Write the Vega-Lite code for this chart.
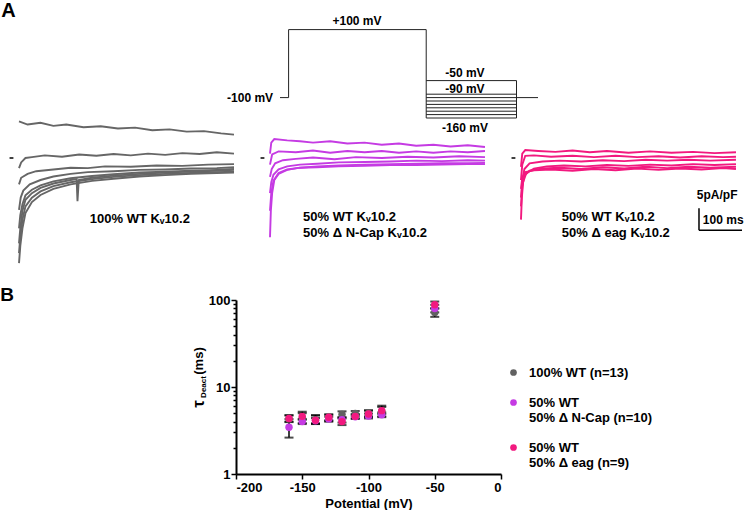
{
  "$schema": "https://vega.github.io/schema/vega-lite/v6.json",
  "padding": 0,
  "background": "white",
  "bounds": "flush",
  "spacing": 0,
  "config": {
    "view": {"stroke": null},
    "font": "Liberation Sans",
    "text": {"font": "Liberation Sans", "fontWeight": "bold", "color": "black"},
    "axis": {"domainColor": "black", "tickColor": "black", "labelColor": "black", "titleColor": "black", "labelFont": "Liberation Sans", "titleFont": "Liberation Sans", "labelFontWeight": "bold", "titleFontWeight": "bold", "labelFontSize": 13, "titleFontSize": 13, "grid": false, "domainWidth": 2, "tickWidth": 1.5}
  },
  "datasets": {
    "protocol": [
      {"t1": 0, "t2": 20, "v1": -100, "v2": -100},
      {"t1": 20, "t2": 20, "v1": -100, "v2": 100},
      {"t1": 20, "t2": 340, "v1": 100, "v2": 100},
      {"t1": 340, "t2": 340, "v1": 100, "v2": -160},
      {"t1": 550, "t2": 550, "v1": -50, "v2": -160},
      {"t1": 550, "t2": 600, "v1": -100, "v2": -100},
      {"t1": 340, "t2": 550, "v1": -50, "v2": -50},
      {"t1": 340, "t2": 550, "v1": -90, "v2": -90},
      {"t1": 340, "t2": 550, "v1": -100, "v2": -100},
      {"t1": 340, "t2": 550, "v1": -110, "v2": -110},
      {"t1": 340, "t2": 550, "v1": -120, "v2": -120},
      {"t1": 340, "t2": 550, "v1": -130, "v2": -130},
      {"t1": 340, "t2": 550, "v1": -140, "v2": -140},
      {"t1": 340, "t2": 550, "v1": -150, "v2": -150},
      {"t1": 340, "t2": 550, "v1": -160, "v2": -160}
    ],
    "protoLabels": [
      {"t": 179, "v": 115, "label": "+100 mV"},
      {"t": 430, "v": -38, "label": "-50 mV"},
      {"t": 430, "v": -85, "label": "-90 mV"},
      {"t": 430, "v": -200, "label": "-160 mV"}
    ],
    "scalebar": [
      {"x1": 414, "x2": 414, "y1": -11.4, "y2": -16.4},
      {"x1": 414, "x2": 514, "y1": -16.4, "y2": -16.4}
    ],
    "traces": [
      {"g":"W","s":1,"t":0,"i":8.3},{"g":"W","s":1,"t":20,"i":7.6},{"g":"W","s":1,"t":50,"i":8.0},{"g":"W","s":1,"t":80,"i":7.3},{"g":"W","s":1,"t":110,"i":7.6},{"g":"W","s":1,"t":150,"i":7.0},{"g":"W","s":1,"t":190,"i":7.2},{"g":"W","s":1,"t":230,"i":6.7},{"g":"W","s":1,"t":270,"i":6.9},{"g":"W","s":1,"t":310,"i":6.3},{"g":"W","s":1,"t":350,"i":6.5},{"g":"W","s":1,"t":390,"i":6.0},{"g":"W","s":1,"t":430,"i":6.1},{"g":"W","s":1,"t":470,"i":5.6},{"g":"W","s":1,"t":500,"i":5.3},
      {"g":"W","s":2,"t":0,"i":-2.3},{"g":"W","s":2,"t":5,"i":-1.0},{"g":"W","s":2,"t":15,"i":0.0},{"g":"W","s":2,"t":30,"i":0.2},{"g":"W","s":2,"t":60,"i":0.6},{"g":"W","s":2,"t":100,"i":0.3},{"g":"W","s":2,"t":140,"i":0.8},{"g":"W","s":2,"t":180,"i":0.5},{"g":"W","s":2,"t":220,"i":0.9},{"g":"W","s":2,"t":260,"i":0.6},{"g":"W","s":2,"t":300,"i":1.0},{"g":"W","s":2,"t":340,"i":0.7},{"g":"W","s":2,"t":380,"i":1.1},{"g":"W","s":2,"t":420,"i":0.9},{"g":"W","s":2,"t":460,"i":1.3},{"g":"W","s":2,"t":500,"i":1.0},
      {"g":"W","s":3,"t":0,"i":-6},{"g":"W","s":3,"t":5,"i":-4.5},{"g":"W","s":3,"t":20,"i":-3.6},{"g":"W","s":3,"t":40,"i":-3.0},{"g":"W","s":3,"t":80,"i":-2.6},{"g":"W","s":3,"t":120,"i":-2.2},{"g":"W","s":3,"t":160,"i":-2.3},{"g":"W","s":3,"t":200,"i":-1.9},{"g":"W","s":3,"t":260,"i":-2.0},{"g":"W","s":3,"t":320,"i":-1.7},{"g":"W","s":3,"t":380,"i":-1.8},{"g":"W","s":3,"t":440,"i":-1.5},{"g":"W","s":3,"t":500,"i":-1.4},
      {"g":"W","s":4,"t":0,"i":-11.8},{"g":"W","s":4,"t":4,"i":-9},{"g":"W","s":4,"t":10,"i":-7.4},{"g":"W","s":4,"t":25,"i":-6.0},{"g":"W","s":4,"t":50,"i":-5.0},{"g":"W","s":4,"t":80,"i":-4.2},{"g":"W","s":4,"t":120,"i":-3.6},{"g":"W","s":4,"t":160,"i":-3.2},{"g":"W","s":4,"t":220,"i":-3.0},{"g":"W","s":4,"t":280,"i":-2.7},{"g":"W","s":4,"t":340,"i":-2.6},{"g":"W","s":4,"t":400,"i":-2.4},{"g":"W","s":4,"t":460,"i":-2.3},{"g":"W","s":4,"t":500,"i":-2.1},
      {"g":"W","s":5,"t":0,"i":-19.4},{"g":"W","s":5,"t":3,"i":-16},{"g":"W","s":5,"t":8,"i":-12},{"g":"W","s":5,"t":15,"i":-9.5},{"g":"W","s":5,"t":30,"i":-8},{"g":"W","s":5,"t":50,"i":-6.8},{"g":"W","s":5,"t":80,"i":-5.8},{"g":"W","s":5,"t":120,"i":-5.0},{"g":"W","s":5,"t":134,"i":-4.8},{"g":"W","s":5,"t":136,"i":-9.8},{"g":"W","s":5,"t":139,"i":-5.0},{"g":"W","s":5,"t":170,"i":-4.5},{"g":"W","s":5,"t":220,"i":-4.0},{"g":"W","s":5,"t":280,"i":-3.6},{"g":"W","s":5,"t":340,"i":-3.3},{"g":"W","s":5,"t":400,"i":-3.1},{"g":"W","s":5,"t":460,"i":-2.9},{"g":"W","s":5,"t":500,"i":-2.7},
      {"g":"W","s":6,"t":0,"i":-21.6},{"g":"W","s":6,"t":3,"i":-18},{"g":"W","s":6,"t":8,"i":-14},{"g":"W","s":6,"t":15,"i":-11},{"g":"W","s":6,"t":30,"i":-9},{"g":"W","s":6,"t":50,"i":-7.6},{"g":"W","s":6,"t":80,"i":-6.4},{"g":"W","s":6,"t":120,"i":-5.5},{"g":"W","s":6,"t":170,"i":-4.8},{"g":"W","s":6,"t":220,"i":-4.3},{"g":"W","s":6,"t":280,"i":-3.9},{"g":"W","s":6,"t":340,"i":-3.6},{"g":"W","s":6,"t":400,"i":-3.4},{"g":"W","s":6,"t":460,"i":-3.2},{"g":"W","s":6,"t":500,"i":-3.1},
      {"g":"W","s":7,"t":0,"i":-23.9},{"g":"W","s":7,"t":3,"i":-20},{"g":"W","s":7,"t":8,"i":-16},{"g":"W","s":7,"t":15,"i":-12.5},{"g":"W","s":7,"t":30,"i":-10},{"g":"W","s":7,"t":50,"i":-8.4},{"g":"W","s":7,"t":80,"i":-7.0},{"g":"W","s":7,"t":120,"i":-6.0},{"g":"W","s":7,"t":170,"i":-5.2},{"g":"W","s":7,"t":220,"i":-4.7},{"g":"W","s":7,"t":280,"i":-4.2},{"g":"W","s":7,"t":340,"i":-3.9},{"g":"W","s":7,"t":400,"i":-3.6},{"g":"W","s":7,"t":460,"i":-3.4},{"g":"W","s":7,"t":500,"i":-3.3},
      {"g":"W","s":8,"t":0,"i":-16},{"g":"W","s":8,"t":3,"i":-13},{"g":"W","s":8,"t":8,"i":-10.5},{"g":"W","s":8,"t":15,"i":-8.5},{"g":"W","s":8,"t":30,"i":-7.2},{"g":"W","s":8,"t":50,"i":-6.2},{"g":"W","s":8,"t":80,"i":-5.3},{"g":"W","s":8,"t":120,"i":-4.6},{"g":"W","s":8,"t":170,"i":-4.1},{"g":"W","s":8,"t":220,"i":-3.7},{"g":"W","s":8,"t":280,"i":-3.3},{"g":"W","s":8,"t":340,"i":-3.1},{"g":"W","s":8,"t":400,"i":-2.9},{"g":"W","s":8,"t":460,"i":-2.7},{"g":"W","s":8,"t":500,"i":-2.5},
      {"g":"N","s":1,"t":0,"i":1},{"g":"N","s":1,"t":3,"i":3.5},{"g":"N","s":1,"t":10,"i":4.3},{"g":"N","s":1,"t":40,"i":4.0},{"g":"N","s":1,"t":70,"i":3.8},{"g":"N","s":1,"t":100,"i":3.5},{"g":"N","s":1,"t":140,"i":3.8},{"g":"N","s":1,"t":180,"i":3.3},{"g":"N","s":1,"t":220,"i":3.5},{"g":"N","s":1,"t":260,"i":3.0},{"g":"N","s":1,"t":300,"i":3.3},{"g":"N","s":1,"t":340,"i":2.8},{"g":"N","s":1,"t":380,"i":3.0},{"g":"N","s":1,"t":420,"i":2.6},{"g":"N","s":1,"t":460,"i":2.9},{"g":"N","s":1,"t":500,"i":2.5},
      {"g":"N","s":2,"t":0,"i":-1.5},{"g":"N","s":2,"t":5,"i":0.8},{"g":"N","s":2,"t":20,"i":1.5},{"g":"N","s":2,"t":60,"i":1.3},{"g":"N","s":2,"t":100,"i":1.7},{"g":"N","s":2,"t":140,"i":1.2},{"g":"N","s":2,"t":180,"i":1.6},{"g":"N","s":2,"t":220,"i":1.3},{"g":"N","s":2,"t":260,"i":1.6},{"g":"N","s":2,"t":300,"i":1.2},{"g":"N","s":2,"t":340,"i":1.5},{"g":"N","s":2,"t":380,"i":1.2},{"g":"N","s":2,"t":420,"i":1.5},{"g":"N","s":2,"t":460,"i":1.3},{"g":"N","s":2,"t":500,"i":1.6},
      {"g":"N","s":3,"t":0,"i":-4.3},{"g":"N","s":3,"t":4,"i":-2.5},{"g":"N","s":3,"t":12,"i":-1.2},{"g":"N","s":3,"t":30,"i":-0.5},{"g":"N","s":3,"t":60,"i":-0.2},{"g":"N","s":3,"t":100,"i":0.1},{"g":"N","s":3,"t":150,"i":-0.3},{"g":"N","s":3,"t":200,"i":0.2},{"g":"N","s":3,"t":260,"i":0.0},{"g":"N","s":3,"t":320,"i":0.3},{"g":"N","s":3,"t":380,"i":0.1},{"g":"N","s":3,"t":440,"i":0.4},{"g":"N","s":3,"t":500,"i":0.2},
      {"g":"N","s":4,"t":0,"i":-8},{"g":"N","s":4,"t":3,"i":-5.5},{"g":"N","s":4,"t":8,"i":-3.8},{"g":"N","s":4,"t":20,"i":-2.6},{"g":"N","s":4,"t":40,"i":-1.9},{"g":"N","s":4,"t":70,"i":-1.5},{"g":"N","s":4,"t":110,"i":-1.3},{"g":"N","s":4,"t":160,"i":-1.0},{"g":"N","s":4,"t":220,"i":-0.9},{"g":"N","s":4,"t":280,"i":-0.8},{"g":"N","s":4,"t":340,"i":-0.6},{"g":"N","s":4,"t":400,"i":-0.7},{"g":"N","s":4,"t":460,"i":-0.5},{"g":"N","s":4,"t":500,"i":-0.6},
      {"g":"N","s":5,"t":0,"i":-18},{"g":"N","s":5,"t":2,"i":-12},{"g":"N","s":5,"t":5,"i":-8},{"g":"N","s":5,"t":10,"i":-5},{"g":"N","s":5,"t":20,"i":-3.6},{"g":"N","s":5,"t":40,"i":-2.7},{"g":"N","s":5,"t":70,"i":-2.2},{"g":"N","s":5,"t":110,"i":-1.9},{"g":"N","s":5,"t":160,"i":-1.7},{"g":"N","s":5,"t":220,"i":-1.5},{"g":"N","s":5,"t":280,"i":-1.4},{"g":"N","s":5,"t":340,"i":-1.3},{"g":"N","s":5,"t":400,"i":-1.2},{"g":"N","s":5,"t":460,"i":-1.2},{"g":"N","s":5,"t":500,"i":-1.1},
      {"g":"N","s":6,"t":0,"i":-12},{"g":"N","s":6,"t":3,"i":-8},{"g":"N","s":6,"t":8,"i":-5.2},{"g":"N","s":6,"t":20,"i":-3.4},{"g":"N","s":6,"t":40,"i":-2.6},{"g":"N","s":6,"t":70,"i":-2.2},{"g":"N","s":6,"t":110,"i":-2.1},{"g":"N","s":6,"t":160,"i":-1.9},{"g":"N","s":6,"t":220,"i":-1.8},{"g":"N","s":6,"t":280,"i":-1.6},{"g":"N","s":6,"t":340,"i":-1.6},{"g":"N","s":6,"t":400,"i":-1.5},{"g":"N","s":6,"t":460,"i":-1.4},{"g":"N","s":6,"t":500,"i":-1.4},
      {"g":"E","s":1,"t":0,"i":-2},{"g":"E","s":1,"t":3,"i":1.0},{"g":"E","s":1,"t":10,"i":1.8},{"g":"E","s":1,"t":40,"i":1.6},{"g":"E","s":1,"t":80,"i":1.4},{"g":"E","s":1,"t":120,"i":1.7},{"g":"E","s":1,"t":160,"i":1.3},{"g":"E","s":1,"t":200,"i":1.6},{"g":"E","s":1,"t":250,"i":1.2},{"g":"E","s":1,"t":300,"i":1.5},{"g":"E","s":1,"t":350,"i":1.2},{"g":"E","s":1,"t":400,"i":1.4},{"g":"E","s":1,"t":450,"i":1.1},{"g":"E","s":1,"t":500,"i":1.3},
      {"g":"E","s":2,"t":0,"i":-5},{"g":"E","s":2,"t":3,"i":-1.5},{"g":"E","s":2,"t":10,"i":0.5},{"g":"E","s":2,"t":30,"i":0.6},{"g":"E","s":2,"t":70,"i":0.3},{"g":"E","s":2,"t":120,"i":0.5},{"g":"E","s":2,"t":170,"i":0.2},{"g":"E","s":2,"t":220,"i":0.5},{"g":"E","s":2,"t":270,"i":0.2},{"g":"E","s":2,"t":320,"i":0.4},{"g":"E","s":2,"t":370,"i":0.1},{"g":"E","s":2,"t":420,"i":0.4},{"g":"E","s":2,"t":470,"i":0.2},{"g":"E","s":2,"t":500,"i":0.3},
      {"g":"E","s":3,"t":0,"i":-9},{"g":"E","s":3,"t":3,"i":-5},{"g":"E","s":3,"t":8,"i":-2.5},{"g":"E","s":3,"t":20,"i":-1.2},{"g":"E","s":3,"t":50,"i":-0.8},{"g":"E","s":3,"t":90,"i":-0.6},{"g":"E","s":3,"t":140,"i":-0.8},{"g":"E","s":3,"t":190,"i":-0.5},{"g":"E","s":3,"t":240,"i":-0.7},{"g":"E","s":3,"t":290,"i":-0.4},{"g":"E","s":3,"t":340,"i":-0.6},{"g":"E","s":3,"t":390,"i":-0.4},{"g":"E","s":3,"t":440,"i":-0.6},{"g":"E","s":3,"t":500,"i":-0.4},
      {"g":"E","s":4,"t":0,"i":-14},{"g":"E","s":4,"t":2,"i":-9},{"g":"E","s":4,"t":5,"i":-5.5},{"g":"E","s":4,"t":12,"i":-3.5},{"g":"E","s":4,"t":30,"i":-2.4},{"g":"E","s":4,"t":60,"i":-1.9},{"g":"E","s":4,"t":100,"i":-1.7},{"g":"E","s":4,"t":150,"i":-1.9},{"g":"E","s":4,"t":200,"i":-1.6},{"g":"E","s":4,"t":250,"i":-1.8},{"g":"E","s":4,"t":300,"i":-1.5},{"g":"E","s":4,"t":350,"i":-1.7},{"g":"E","s":4,"t":400,"i":-1.4},{"g":"E","s":4,"t":450,"i":-1.6},{"g":"E","s":4,"t":500,"i":-1.4},
      {"g":"E","s":5,"t":0,"i":-11},{"g":"E","s":5,"t":3,"i":-6.5},{"g":"E","s":5,"t":8,"i":-4},{"g":"E","s":5,"t":20,"i":-2.9},{"g":"E","s":5,"t":50,"i":-2.4},{"g":"E","s":5,"t":90,"i":-2.2},{"g":"E","s":5,"t":140,"i":-2.5},{"g":"E","s":5,"t":190,"i":-2.1},{"g":"E","s":5,"t":240,"i":-2.4},{"g":"E","s":5,"t":290,"i":-2.0},{"g":"E","s":5,"t":340,"i":-2.3},{"g":"E","s":5,"t":390,"i":-2.0},{"g":"E","s":5,"t":440,"i":-2.2},{"g":"E","s":5,"t":500,"i":-2.0},
      {"g":"E","s":6,"t":0,"i":-7},{"g":"E","s":6,"t":3,"i":-4.5},{"g":"E","s":6,"t":10,"i":-3.2},{"g":"E","s":6,"t":30,"i":-2.8},{"g":"E","s":6,"t":70,"i":-2.6},{"g":"E","s":6,"t":120,"i":-2.9},{"g":"E","s":6,"t":170,"i":-2.5},{"g":"E","s":6,"t":220,"i":-2.8},{"g":"E","s":6,"t":270,"i":-2.4},{"g":"E","s":6,"t":320,"i":-2.7},{"g":"E","s":6,"t":370,"i":-2.4},{"g":"E","s":6,"t":420,"i":-2.6},{"g":"E","s":6,"t":470,"i":-2.3},{"g":"E","s":6,"t":500,"i":-2.5}
    ],
    "tau": [
      {"grp":"100% WT (n=13)","v":-160,"tau":4.3,"lo":3.95,"hi":4.7},
      {"grp":"100% WT (n=13)","v":-150,"tau":4.35,"lo":3.85,"hi":5.2},
      {"grp":"100% WT (n=13)","v":-140,"tau":4.2,"lo":3.8,"hi":4.7},
      {"grp":"100% WT (n=13)","v":-130,"tau":4.4,"lo":4.0,"hi":4.8},
      {"grp":"100% WT (n=13)","v":-120,"tau":4.85,"lo":4.45,"hi":5.25},
      {"grp":"100% WT (n=13)","v":-110,"tau":4.95,"lo":4.6,"hi":5.3},
      {"grp":"100% WT (n=13)","v":-100,"tau":5.0,"lo":4.6,"hi":5.4},
      {"grp":"100% WT (n=13)","v":-90,"tau":5.2,"lo":4.6,"hi":5.9},
      {"grp":"100% WT (n=13)","v":-50,"tau":72,"lo":64,"hi":80},
      {"grp":"50% WT|50% Δ N-Cap (n=10)","v":-160,"tau":3.45,"lo":2.62,"hi":4.28},
      {"grp":"50% WT|50% Δ N-Cap (n=10)","v":-150,"tau":4.0,"lo":3.75,"hi":4.3},
      {"grp":"50% WT|50% Δ N-Cap (n=10)","v":-140,"tau":4.1,"lo":3.8,"hi":4.4},
      {"grp":"50% WT|50% Δ N-Cap (n=10)","v":-130,"tau":4.3,"lo":4.05,"hi":4.55},
      {"grp":"50% WT|50% Δ N-Cap (n=10)","v":-120,"tau":4.2,"lo":3.9,"hi":4.5},
      {"grp":"50% WT|50% Δ N-Cap (n=10)","v":-110,"tau":4.55,"lo":4.3,"hi":4.8},
      {"grp":"50% WT|50% Δ N-Cap (n=10)","v":-100,"tau":4.65,"lo":4.35,"hi":4.95},
      {"grp":"50% WT|50% Δ N-Cap (n=10)","v":-90,"tau":4.8,"lo":4.5,"hi":5.1},
      {"grp":"50% WT|50% Δ N-Cap (n=10)","v":-50,"tau":80,"lo":72,"hi":88},
      {"grp":"50% WT|50% Δ eag (n=9)","v":-160,"tau":4.35,"lo":4.0,"hi":4.75},
      {"grp":"50% WT|50% Δ eag (n=9)","v":-150,"tau":4.6,"lo":4.2,"hi":5.0},
      {"grp":"50% WT|50% Δ eag (n=9)","v":-140,"tau":4.15,"lo":3.75,"hi":4.75},
      {"grp":"50% WT|50% Δ eag (n=9)","v":-130,"tau":4.5,"lo":4.15,"hi":4.85},
      {"grp":"50% WT|50% Δ eag (n=9)","v":-120,"tau":4.0,"lo":3.65,"hi":4.35},
      {"grp":"50% WT|50% Δ eag (n=9)","v":-110,"tau":4.6,"lo":4.35,"hi":4.9},
      {"grp":"50% WT|50% Δ eag (n=9)","v":-100,"tau":4.9,"lo":4.5,"hi":5.35},
      {"grp":"50% WT|50% Δ eag (n=9)","v":-90,"tau":5.35,"lo":4.9,"hi":6.1},
      {"grp":"50% WT|50% Δ eag (n=9)","v":-50,"tau":88,"lo":80,"hi":96}
    ]
  },
  "vconcat": [
    {
      "width": 745, "height": 118,
      "layer": [
        {
          "data": {"name": "protocol"},
          "mark": {"type": "rule", "color": "#222222", "strokeWidth": 1},
          "encoding": {
            "x": {"field": "t1", "type": "quantitative", "scale": {"domain": [-651.2, 1081.4], "nice": false, "zero": false}, "axis": null},
            "x2": {"field": "t2"},
            "y": {"field": "v1", "type": "quantitative", "scale": {"domain": [-160, 187.06], "nice": false, "zero": false}, "axis": null},
            "y2": {"field": "v2"}
          }
        },
        {
          "data": {"name": "protoLabels"},
          "mark": {"type": "text", "fontSize": 12, "fontWeight": "bold", "baseline": "alphabetic", "align": "center"},
          "encoding": {
            "x": {"field": "t", "type": "quantitative"},
            "y": {"field": "v", "type": "quantitative"},
            "text": {"field": "label"}
          }
        },
        {
          "data": {"values": [{"label": "-100 mV"}]},
          "mark": {"type": "text", "fontSize": 12, "fontWeight": "bold", "baseline": "alphabetic", "align": "right"},
          "encoding": {
            "x": {"datum": -16, "type": "quantitative"},
            "y": {"datum": -111.5, "type": "quantitative"},
            "text": {"field": "label"}
          }
        },
        {
          "data": {"values": [{"label": "A"}]},
          "mark": {"type": "text", "fontSize": 20, "fontWeight": "bold", "baseline": "middle", "align": "center"},
          "encoding": {
            "x": {"datum": -631.4, "type": "quantitative"},
            "y": {"datum": 154.7, "type": "quantitative"},
            "text": {"field": "label"}
          }
        }
      ]
    },
    {
      "width": 745, "height": 182,
      "resolve": {"scale": {"x": "independent"}},
      "layer": [
        {
          "layer": [
            {
              "data": {"name": "traces"},
              "transform": [{"filter": "datum.g === 'W'"}],
              "mark": {"type": "line", "color": "#666666", "strokeWidth": 1.9},
              "encoding": {
                "x": {"field": "t", "type": "quantitative", "scale": {"domain": [-44.2, 1688.4], "nice": false, "zero": false}, "axis": null},
                "y": {"field": "i", "type": "quantitative", "scale": {"domain": [-32.27, 9.09], "nice": false, "zero": false}, "axis": null},
                "detail": {"field": "s"}
              }
            },
            {
              "data": {"values": [{"m": 1}]},
              "mark": {"type": "rule", "color": "black", "strokeWidth": 1.5},
              "encoding": {"x": {"datum": -22, "type": "quantitative"}, "x2": {"datum": -13}, "y": {"datum": 0, "type": "quantitative"}}
            },
            {
              "data": {"values": [{"label": "100% WT Kᵥ10.2"}]},
              "mark": {"type": "text", "fontSize": 13, "fontWeight": "bold", "baseline": "alphabetic", "align": "center"},
              "encoding": {"x": {"datum": 281, "type": "quantitative"}, "y": {"datum": -14.7, "type": "quantitative"}, "text": {"field": "label"}}
            }
          ]
        },
        {
          "layer": [
            {
              "data": {"name": "traces"},
              "transform": [{"filter": "datum.g === 'N'"}],
              "mark": {"type": "line", "color": "#c53be3", "strokeWidth": 1.9},
              "encoding": {
                "x": {"field": "t", "type": "quantitative", "scale": {"domain": [-627.9, 1104.7], "nice": false, "zero": false}, "axis": null},
                "y": {"field": "i", "type": "quantitative", "axis": null},
                "detail": {"field": "s"}
              }
            },
            {
              "data": {"values": [{"m": 1}]},
              "mark": {"type": "rule", "color": "black", "strokeWidth": 1.5},
              "encoding": {"x": {"datum": -22, "type": "quantitative"}, "x2": {"datum": -13}, "y": {"datum": 0, "type": "quantitative"}}
            },
            {
              "data": {"values": [{"label": ["50% WT Kᵥ10.2", "50% Δ N-Cap Kᵥ10.2"]}]},
              "mark": {"type": "text", "fontSize": 13, "fontWeight": "bold", "baseline": "alphabetic", "align": "left", "lineHeight": 16},
              "encoding": {"x": {"datum": 77, "type": "quantitative"}, "y": {"datum": -14.4, "type": "quantitative"}, "text": {"field": "label"}}
            }
          ]
        },
        {
          "layer": [
            {
              "data": {"name": "traces"},
              "transform": [{"filter": "datum.g === 'E'"}],
              "mark": {"type": "line", "color": "#f2197f", "strokeWidth": 1.9},
              "encoding": {
                "x": {"field": "t", "type": "quantitative", "scale": {"domain": [-1211.6, 521], "nice": false, "zero": false}, "axis": null},
                "y": {"field": "i", "type": "quantitative", "axis": null},
                "detail": {"field": "s"}
              }
            },
            {
              "data": {"values": [{"m": 1}]},
              "mark": {"type": "rule", "color": "black", "strokeWidth": 1.5},
              "encoding": {"x": {"datum": -22, "type": "quantitative"}, "x2": {"datum": -13}, "y": {"datum": 0, "type": "quantitative"}}
            },
            {
              "data": {"values": [{"label": ["50% WT Kᵥ10.2", "50% Δ eag Kᵥ10.2"]}]},
              "mark": {"type": "text", "fontSize": 13, "fontWeight": "bold", "baseline": "alphabetic", "align": "left", "lineHeight": 16},
              "encoding": {"x": {"datum": 95, "type": "quantitative"}, "y": {"datum": -14.4, "type": "quantitative"}, "text": {"field": "label"}}
            },
            {
              "data": {"name": "scalebar"},
              "mark": {"type": "rule", "color": "black", "strokeWidth": 1.5},
              "encoding": {"x": {"field": "x1", "type": "quantitative"}, "x2": {"field": "x2"}, "y": {"field": "y1", "type": "quantitative"}, "y2": {"field": "y2"}}
            },
            {
              "data": {"values": [{"label": "5pA/pF"}]},
              "mark": {"type": "text", "fontSize": 12, "fontWeight": "bold", "baseline": "alphabetic", "align": "left"},
              "encoding": {"x": {"datum": 409, "type": "quantitative"}, "y": {"datum": -9.4, "type": "quantitative"}, "text": {"field": "label"}}
            },
            {
              "data": {"values": [{"label": "100 ms"}]},
              "mark": {"type": "text", "fontSize": 12, "fontWeight": "bold", "baseline": "alphabetic", "align": "left"},
              "encoding": {"x": {"datum": 423, "type": "quantitative"}, "y": {"datum": -15.1, "type": "quantitative"}, "text": {"field": "label"}}
            }
          ]
        }
      ]
    },
    {
      "bounds": "flush",
      "spacing": 222,
      "hconcat": [
        {
          "width": 14, "height": 1,
          "data": {"values": [{"letter": "B"}]},
          "mark": {"type": "text", "fontSize": 19, "fontWeight": "bold", "baseline": "alphabetic"},
          "encoding": {"text": {"field": "letter"}}
        },
        {
          "width": 265, "height": 174,
          "data": {"name": "tau"},
          "layer": [
            {
              "mark": {"type": "errorbar", "ticks": {"size": 9, "thickness": 2, "color": "black"}, "rule": {"strokeWidth": 1.5, "color": "black"}},
              "encoding": {
                "x": {"field": "v", "type": "quantitative", "scale": {"domain": [-200, 0], "nice": false, "zero": false},
                  "axis": {"values": [-200, -150, -100, -50, 0], "labelExpr": "toString(datum.value)", "title": "Potential (mV)", "tickSize": 5, "labelPadding": 2, "titlePadding": 3}},
                "y": {"field": "lo", "type": "quantitative", "scale": {"type": "log", "domain": [1, 100], "nice": false},
                  "axis": {"values": [1, 2, 3, 4, 5, 6, 7, 8, 9, 10, 20, 30, 40, 50, 60, 70, 80, 90, 100],
                    "labelExpr": "indexof([1, 10, 100], datum.value) >= 0 ? toString(datum.value) : ''",
                    "tickSize": {"condition": {"test": "indexof([1, 10, 100], datum.value) >= 0", "value": 5}, "value": 3},
                    "title": null, "labelPadding": 1}},
                "y2": {"field": "hi"},
                "detail": {"field": "grp"}
              }
            },
            {
              "mark": {"type": "circle", "size": 55, "opacity": 1},
              "encoding": {
                "x": {"field": "v", "type": "quantitative"},
                "y": {"field": "tau", "type": "quantitative"},
                "color": {"field": "grp", "type": "nominal",
                  "scale": {"domain": ["100% WT (n=13)", "50% WT|50% Δ N-Cap (n=10)", "50% WT|50% Δ eag (n=9)"], "range": ["#616161", "#c53be3", "#f2197f"]},
                  "legend": {"title": null, "orient": "none", "legendX": 507, "legendY": 366, "labelExpr": "split(datum.label, '|')", "labelFont": "Liberation Sans", "labelFontWeight": "bold", "labelFontSize": 13, "labelColor": "black", "labelLimit": 0, "symbolType": "circle", "symbolSize": 45, "symbolStrokeWidth": 0, "rowPadding": 16, "labelOffset": 9, "padding": 0}}
              }
            },
            {
              "data": {"values": [{"label": "τ"}]},
              "mark": {"type": "text", "fontSize": 17, "fontWeight": "bold", "angle": 270, "baseline": "middle", "align": "center"},
              "encoding": {"x": {"datum": -228, "type": "quantitative"}, "y": {"datum": 6.4, "type": "quantitative"}, "text": {"field": "label"}}
            },
            {
              "data": {"values": [{"label": "Deact"}]},
              "mark": {"type": "text", "fontSize": 8, "fontWeight": "bold", "angle": 270, "baseline": "middle", "align": "center"},
              "encoding": {"x": {"datum": -224, "type": "quantitative"}, "y": {"datum": 10, "type": "quantitative"}, "text": {"field": "label"}}
            },
            {
              "data": {"values": [{"label": "(ms)"}]},
              "mark": {"type": "text", "fontSize": 13, "fontWeight": "bold", "angle": 270, "baseline": "middle", "align": "center"},
              "encoding": {"x": {"datum": -228, "type": "quantitative"}, "y": {"datum": 19.9, "type": "quantitative"}, "text": {"field": "label"}}
            }
          ]
        }
      ]
    }
  ]
}
